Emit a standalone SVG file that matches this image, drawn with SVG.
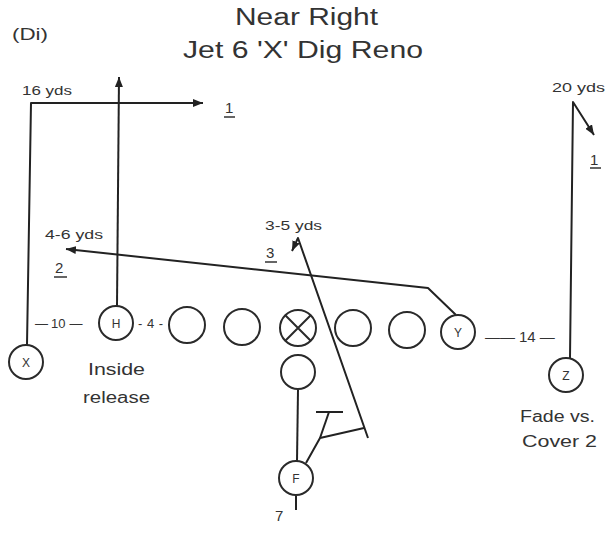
<svg xmlns="http://www.w3.org/2000/svg" width="605" height="540" viewBox="0 0 605 540">
<defs>
<marker id="arr" viewBox="0 0 10 8" refX="10" refY="4" markerWidth="10" markerHeight="8" markerUnits="userSpaceOnUse" orient="auto">
<path d="M0,0 L10,4 L0,8 z" fill="#222"/>
</marker>
</defs>
<style>
text{font-family:"Liberation Sans",Arial,sans-serif;fill:#333}
.t{font-size:23px}
.s{font-size:13px}
.m{font-size:16px}
.n{font-size:15px}
.p{font-size:12px;text-anchor:middle}
.pl{fill:#fff;stroke:#2a2a2a;stroke-width:2}
.r{fill:none;stroke:#222;stroke-width:2;stroke-linejoin:round}
.u{stroke:#333;stroke-width:1.5}
</style>
<rect width="605" height="540" fill="#fff"/>
<g id="title">
<text class="t" x="235" y="25" textLength="143" lengthAdjust="spacingAndGlyphs">Near Right</text>
<text class="t" x="183" y="58" textLength="240" lengthAdjust="spacingAndGlyphs">Jet 6 'X' Dig Reno</text>
<text class="m" x="12" y="40" textLength="36" lengthAdjust="spacingAndGlyphs">(Di)</text>
</g>
<g id="connectors">
<polyline class="r" points="27,345 31,103 203,103" marker-end="url(#arr)"/>
<polyline class="r" points="117,306 119,77" marker-end="url(#arr)"/>
<polyline class="r" points="456,315 428,288 66,249" marker-end="url(#arr)"/>
<polyline class="r" points="570,358 573,102 594,135" marker-end="url(#arr)"/>
<polyline class="r" points="368,438 298,238 292,251" marker-end="url(#arr)"/>
<polyline class="r" points="298,390 297,461"/>
<polyline class="r" points="306,463 320,438 364,428"/>
<polyline class="r" points="320,438 329,412"/>
<line class="r" x1="316" y1="412" x2="343" y2="412"/>
<line class="r" x1="296" y1="496" x2="296" y2="510"/>
</g>
<g id="labels">
<text class="s" x="22" y="95" textLength="50" lengthAdjust="spacingAndGlyphs">16 yds</text>
<text class="s" x="552" y="92" textLength="53" lengthAdjust="spacingAndGlyphs">20 yds</text>
<text class="s" x="45" y="239" textLength="58" lengthAdjust="spacingAndGlyphs">4-6 yds</text>
<text class="s" x="265" y="230" textLength="57" lengthAdjust="spacingAndGlyphs">3-5 yds</text>
<text class="n" x="225" y="113">1</text>
<line class="u" x1="224" y1="117" x2="235" y2="117"/>
<text class="n" x="590" y="165">1</text>
<line class="u" x1="590" y1="168" x2="601" y2="168"/>
<text class="n" x="55" y="273">2</text>
<line class="u" x1="54" y1="277" x2="67" y2="277"/>
<text class="n" x="266" y="258">3</text>
<line class="u" x1="265" y1="262" x2="277" y2="262"/>
<text class="s" x="35" y="328">—<tspan dx="3">10</tspan><tspan dx="4">—</tspan></text>
<text class="s" x="138" y="328" textLength="25" lengthAdjust="spacing">-4-</text>
<text class="n" x="485" y="342">——<tspan dx="4">14</tspan><tspan dx="4">—</tspan></text>
<text class="n" x="275" y="521">7</text>
<text class="m" x="88" y="375" textLength="57" lengthAdjust="spacingAndGlyphs">Inside</text>
<text class="m" x="83" y="403" textLength="67" lengthAdjust="spacingAndGlyphs">release</text>
<text class="m" x="520" y="422" textLength="75" lengthAdjust="spacingAndGlyphs">Fade vs.</text>
<text class="m" x="522" y="447" textLength="75" lengthAdjust="spacingAndGlyphs">Cover 2</text>
</g>
<g id="player-X"><circle class="pl" cx="26" cy="362" r="17"/><text class="p" x="26" y="367">X</text></g>
<g id="player-H"><circle class="pl" cx="116" cy="323" r="17"/><text class="p" x="116" y="328">H</text></g>
<g id="lineman-1"><circle class="pl" cx="187" cy="325" r="18"/></g>
<g id="lineman-2"><circle class="pl" cx="242" cy="327" r="18"/></g>
<g id="center"><circle class="pl" cx="298" cy="328" r="18"/><path d="M285.3,315.3 L310.7,340.7 M310.7,315.3 L285.3,340.7" stroke="#2a2a2a" stroke-width="2"/></g>
<g id="lineman-3"><circle class="pl" cx="353" cy="328" r="18"/></g>
<g id="lineman-4"><circle class="pl" cx="407" cy="330" r="18"/></g>
<g id="player-Y"><circle class="pl" cx="458" cy="332" r="17"/><text class="p" x="458" y="337">Y</text></g>
<g id="player-Z"><circle class="pl" cx="566" cy="375" r="17"/><text class="p" x="566" y="380">Z</text></g>
<g id="player-QB"><circle class="pl" cx="298" cy="372" r="17"/></g>
<g id="player-F"><circle class="pl" cx="296" cy="478" r="17"/><text class="p" x="296" y="483">F</text></g>
</svg>
